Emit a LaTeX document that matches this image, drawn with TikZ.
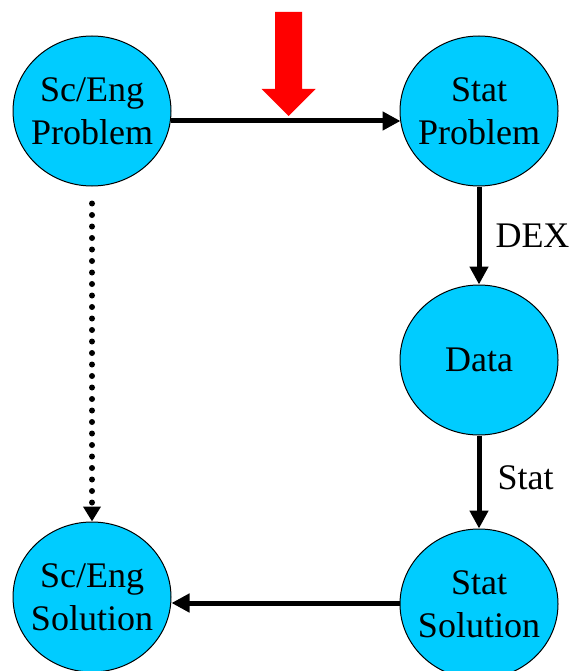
\documentclass[tikz,border=0pt]{standalone}
\usepackage{fontspec}
\setmainfont{Liberation Serif}
\usetikzlibrary{shapes.geometric,arrows.meta,calc}
\definecolor{bubble}{RGB}{0,204,255}
\definecolor{hotred}{RGB}{255,0,0}
\tikzset{
  bubblenode/.style={ellipse, draw=black, line width=1pt, fill=bubble, inner sep=0pt,
    minimum width=158pt, minimum height=150pt,
    label={[align=center, inner sep=0pt, font=\fontsize{36}{43}\selectfont]center:#1}},
  flow/.style={line width=5pt, -{Triangle[length=18pt,width=18pt]}},
  dotflow/.style={line width=6pt, line cap=round, dash pattern=on 0pt off 11.5pt,
    -{Triangle[length=15pt,width=17pt]}},
  lbl/.style={font=\fontsize{36}{43}\selectfont, inner sep=0pt, anchor=west}
}
\begin{document}
\begin{tikzpicture}[x=1pt,y=-1pt]
\useasboundingbox (0,0) rectangle (571,671);
\clip (0,0) rectangle (571,671);
% nodes
\node[bubblenode={Sc/Eng\\Problem}] (A) at (92,111) {};
\node[bubblenode={Stat\\Problem}] (B) at (479,111) {};
\node[bubblenode={Data}] (C) at (479,360) {};
\node[bubblenode={Stat\\Solution}] (D) at (479,604) {};
\node[bubblenode={Sc/Eng\\Solution}] (E) at (92,597) {};
% connectors
\draw[flow] ($(A.east)+(-1,10)$) -- ($(B.west)+(1,10)$);
\draw[flow] (B.south) -- (C.north) node[lbl, pos=0.5, xshift=14pt] (dex) {DEX};
\draw[flow] (C.south) -- (D.north) node[lbl, pos=0.45, xshift=16pt] (st) {Stat};
\draw[flow] ($(D.west)+(0,-1)$) -- ($(D.west -| E.east)+(0,-1)$);
\draw[dotflow] ($(A.south)+(0,17)$) -- (E.north);
% red arrow
\fill[hotred] (275,12) -- (302,12) -- (302,89) -- (315.5,89) -- (288.5,116)
  -- (261.5,89) -- (275,89) -- cycle;
\end{tikzpicture}
\end{document}
